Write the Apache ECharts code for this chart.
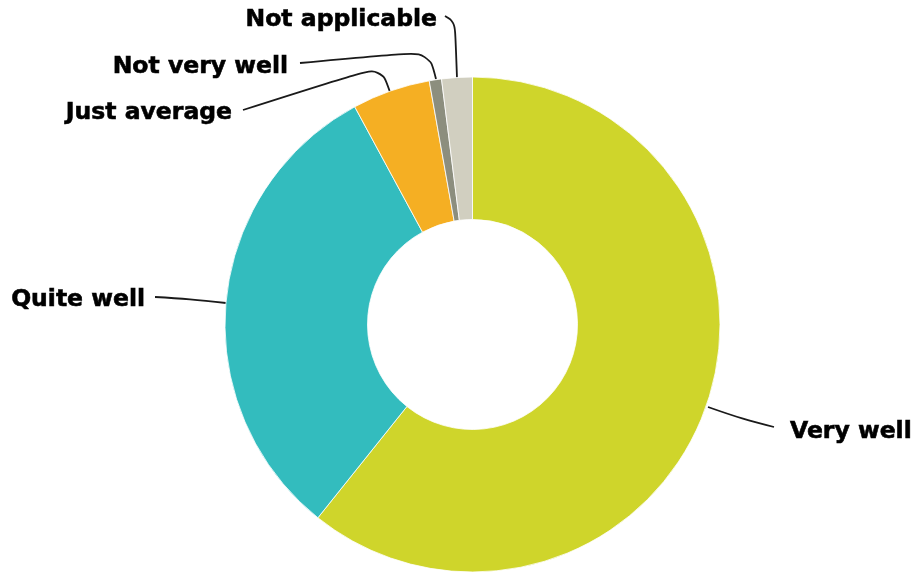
<!DOCTYPE html>
<html>
<head>
<meta charset="utf-8">
<script src="https://cdn.jsdelivr.net/npm/echarts@6/dist/echarts.min.js"></script>
<style>
html,body{margin:0;padding:0;background:#fff;}
#chart{width:918px;height:573px;}
</style>
</head>
<body>
<div id="chart"></div>
<script>
var categories = ['Very well', 'Quite well', 'Just average', 'Not very well', 'Not applicable'];
var values = [60.8, 31.4, 5.1, 0.8, 2.0];
var colors = ['#CFD52B', '#33BCBE', '#F5AF23', '#8C8E7E', '#D1CFC0'];

// label placement (layout only)
var labelPos = [
  {x: 790, y: 432, align: 'left', line: [[708, 407], [742, 419], [774, 427]]},
  {x: 145, y: 300, align: 'right', line: [[226, 303], [190, 299], [155, 297]]},
  {x: 232, y: 113, align: 'right', line: [[390, 92], [381, 66], [243, 110]]},
  {x: 288, y: 67, align: 'right', line: [[436, 79], [429, 51], [300, 63]]},
  {x: 437, y: 20, align: 'right', line: [[457, 78], [455, 22], [445, 16]]}
];

var chart = echarts.init(document.getElementById('chart'), null, {renderer: 'canvas'});
chart.setOption({
  animation: false,
  series: [{
    type: 'pie',
    center: [472.5, 324.5],
    radius: [105, 247.5],
    startAngle: 90,
    clockwise: true,
    avoidLabelOverlap: false,
    itemStyle: {borderColor: '#ffffff', borderWidth: 0.8},
    label: {
      show: true,
      formatter: '{b}',
      color: '#000',
      fontFamily: 'DejaVu Sans',
      fontWeight: 'bold',
      fontSize: 23.5,
      textBorderColor: '#000',
      textBorderWidth: 0.6
    },
    labelLine: {show: true, smooth: 0.4, lineStyle: {color: '#1a1a1a', width: 1.8}},
    labelLayout: function (p) {
      var lp = labelPos[p.dataIndex];
      return {x: lp.x, y: lp.y, align: lp.align, verticalAlign: 'middle', labelLinePoints: lp.line};
    },
    data: categories.map(function (c, i) {
      return {name: c, value: values[i], itemStyle: {color: colors[i]}};
    })
  }]
});
</script>
</body>
</html>
